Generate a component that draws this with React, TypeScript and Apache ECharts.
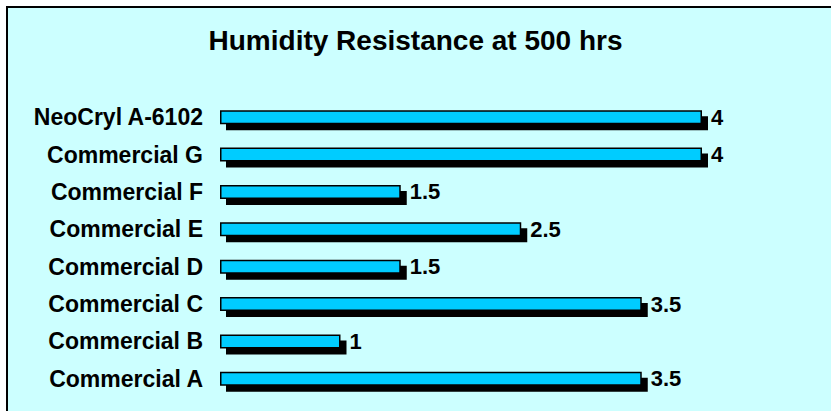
import React, { useEffect, useRef } from "react";
import * as echarts from "echarts";

const categories = [
  "NeoCryl A-6102",
  "Commercial G",
  "Commercial F",
  "Commercial E",
  "Commercial D",
  "Commercial C",
  "Commercial B",
  "Commercial A",
];
const values = [4, 4, 1.5, 2.5, 1.5, 3.5, 1, 3.5];
const titleText = "Humidity Resistance at 500 hrs";

const FONT = "'Liberation Sans', Arial, Helvetica, sans-serif";

export default function App() {
  const ref = useRef<HTMLDivElement>(null);
  useEffect(() => {
    if (!ref.current) return;
    const chart = echarts.init(ref.current, null, { renderer: "svg" });
    chart.setOption({
      animation: false,
      backgroundColor: "#ffffff",
      title: {
        text: titleText,
        left: "center",
        top: 21,
        textStyle: {
          fontFamily: FONT,
          fontWeight: "bold",
          fontSize: 28,
          color: "#000",
        },
      },
      graphic: [
        {
          type: "rect",
          z: -10,
          silent: true,
          shape: { x: 7, y: 7, width: 900, height: 500 },
          style: { fill: "#CCFFFF", stroke: "#000", lineWidth: 2 },
        },
      ],
      grid: { left: 220, right: 8.5, top: 98.5, height: 299, containLabel: false },
      xAxis: {
        type: "value",
        min: 0,
        max: 5,
        show: false,
      },
      yAxis: {
        type: "category",
        data: categories,
        inverse: true,
        axisLine: { show: false },
        axisTick: { show: false },
        splitLine: { show: false },
        axisLabel: {
          margin: 17,
          fontFamily: FONT,
          fontWeight: "bold",
          fontSize: 23,
          color: "#000",
        },
      },
      series: [
        {
          type: "bar",
          data: values,
          barWidth: 14,
          itemStyle: {
            color: "#00CCFF",
            borderColor: "#000",
            borderWidth: 1.5,
            shadowColor: "#000",
            shadowBlur: 0,
            shadowOffsetX: 6,
            shadowOffsetY: 6,
          },
          label: {
            show: true,
            position: "right",
            distance: 9,
            fontFamily: FONT,
            fontWeight: "bold",
            fontSize: 22,
            color: "#000",
          },
        },
      ],
    });
    return () => chart.dispose();
  }, []);
  return (
    <div
      ref={ref}
      style={{ position: "fixed", left: 0, top: 0, width: 831, height: 411 }}
    />
  );
}
